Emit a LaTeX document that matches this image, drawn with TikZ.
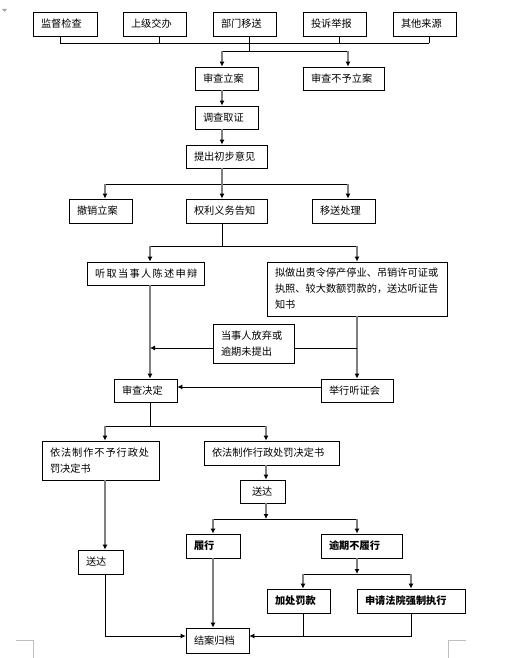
\documentclass[tikz,border=0pt]{standalone}
\usepackage{fontspec}
\newfontfamily\cjk{Noto Sans CJK SC}
\usetikzlibrary{arrows.meta}
\tikzset{
  box/.style={draw=black, line width=0.8pt, inner xsep=8pt, inner ysep=0pt, align=left,
    font=\cjk\fontsize{10.2pt}{16pt}\selectfont},
  ln/.style={draw=black, line width=0.8pt},
  gl/.style={draw=black!50, line width=1.6pt},
  ar/.style={draw=black!50, line width=1.6pt, -{Latex[length=5pt,width=5pt,color=black]}},
  lnar/.style={draw=black, line width=0.8pt, -{Latex[length=5pt,width=5pt,color=black]}},
  pagemark/.style={draw=black!25, line width=0.8pt}
}
% name, cx, cy, w, h, text
\newcommand{\bx}[6]{\node[box, minimum width=#4pt, minimum height=#5pt, text width=#4pt-16pt] (#1) at (#2,#3) {#6};}
\begin{document}
\begin{tikzpicture}[x=1pt, y=-1pt]
\useasboundingbox (0,0) rectangle (523,658);
% page marks
\fill[black!35] (2,9) -- (7,9) -- (4.5,12) -- cycle;
\draw[pagemark] (16,640) -- (33,640) -- (33,658);
\draw[pagemark] (466,640) -- (448,640) -- (448,658);
% boxes
\bx{s1}{65}{24}{64}{24}{监督检查}
\bx{s2}{154.5}{24}{63}{24}{上级交办}
\bx{s3}{244.5}{24}{63}{24}{部门移送}
\bx{s4}{334.5}{24}{63}{24}{投诉举报}
\bx{s5}{424.5}{24}{63}{24}{其他来源}
\bx{la}{226.5}{78.5}{63}{23}{审查立案}
\bx{nl}{343.5}{78.5}{81}{23}{审查不予立案}
\bx{dc}{226.5}{117.5}{63}{23}{调查取证}
\bx{tc}{226.5}{156.5}{81}{23}{提出初步意见}
\bx{cx}{100.5}{211}{63}{24}{撤销立案}
\bx{ql}{226.5}{211}{81}{24}{权利义务告知}
\bx{ys}{343.5}{211}{63}{24}{移送处理}
\bx{tq}{145.5}{273.5}{117}{23}{\addfontfeature{LetterSpace=13}听取当事人陈述申辩}
\bx{nz}{357}{289}{180}{54}{拟做出责令停产停业、吊销许可证或\\执照、较大数额罚款的，送达听证告\\知书}
\bx{fq}{253.5}{343.5}{81}{39}{当事人放弃或\\逾期未提出}
\bx{jd}{145.5}{390.5}{63}{23}{审查决定}
\bx{tz}{357}{390.5}{72}{23}{举行听证会}
\bx{by}{100.5}{460.5}{117}{39}{{\addfontfeature{LetterSpace=9}依法制作不予行政处}\\罚决定书}
\bx{cf}{271.5}{453}{135}{24}{依法制作行政处罚决定书}
\bx{sd}{262.5}{491.5}{45}{23}{\hspace{4pt}送达}
\bx{sl}{100.5}{562}{45}{24}{送达}
\bx{lx}{213}{546}{54}{24}{\bfseries 履行}
\bx{yq}{361.5}{546}{81}{24}{\bfseries 逾期不履行}
\bx{jc}{298.5}{601}{63}{24}{\bfseries 加处罚款}
\bx{sq}{411}{601}{108}{24}{\bfseries 申请法院强制执行}
\bx{ja}{217.5}{640.5}{63}{25}{结案归档}
% junction coordinates
\coordinate (b1) at (60,43);
\coordinate (b2) at (159,43);
\coordinate (b3) at (249,43);
\coordinate (b4) at (339,43);
\coordinate (b5) at (429,43);
\coordinate (b3d) at (249,51);
\coordinate (c1) at (222,51);
\coordinate (c2) at (348,51);
\coordinate (d1) at (105,184);
\coordinate (d2) at (222,184);
\coordinate (d3) at (348,184);
\coordinate (e0) at (222,246);
\coordinate (e1) at (150,246);
\coordinate (e2) at (357,246);
\coordinate (f1) at (150,348);
\coordinate (f2) at (357,348);
\coordinate (g1) at (250,387);
\coordinate (h0) at (150,426);
\coordinate (h1) at (105,426);
\coordinate (h2) at (266,426);
\coordinate (i0) at (266,519);
\coordinate (i1) at (213,519);
\coordinate (i2) at (357,519);
\coordinate (j0) at (357,574);
\coordinate (j1) at (303,574);
\coordinate (j2) at (411,574);
\coordinate (k1) at (105,636);
\coordinate (k2) at (303,636);
\coordinate (k3) at (411,636);
% connectors
\draw[ln] (s1.south -| b1) -- (b1);
\draw[ln] (s2.south -| b2) -- (b2);
\draw[ln] (s3.south -| b3) -- (b3);
\draw[ln] (s4.south -| b4) -- (b4);
\draw[ln] (s5.south -| b5) -- (b5);
\draw[ln] (b1) -- (b5);
\draw[ln] (b3) -- (b3d);
\draw[ln] (c1) -- (c2);
\draw[ar] (c1) -- (c1 |- la.north);
\draw[ar] (c2) -- (c2 |- nl.north);
\draw[ar] (la.south -| c1) -- (dc.north -| c1);
\draw[ar] (dc.south -| c1) -- (tc.north -| c1);
\draw[ln] (d1) -- (d3);
\draw[gl] (tc.south -| d2) -- (d2);
\draw[ar] (d1) -- (d1 |- cx.north);
\draw[ar] (d2) -- (d2 |- ql.north);
\draw[ar] (d3) -- (d3 |- ys.north);
\draw[ln] (ql.south -| e0) -- (e0);
\draw[ln] (e1) -- (e2);
\draw[ar] (e1) -- (e1 |- tq.north);
\draw[ar] (e2) -- (e2 |- nz.north);
\draw[ar] (tq.south -| e1) -- (jd.north -| e1);
\draw[ar] (nz.south -| e2) -- (tz.north -| e2);
\draw[ln] (f2) -- (fq.east |- f2);
\draw[lnar] (fq.west |- f1) -- (f1);
\draw[lnar] (tz.west |- g1) -- (jd.east |- g1);
\draw[ln] (jd.south -| h0) -- (h0);
\draw[ln] (h1) -- (h2);
\draw[ar] (h1) -- (h1 |- by.north);
\draw[ar] (h2) -- (h2 |- cf.north);
\draw[ar] (cf.south -| h2) -- (sd.north -| h2);
\draw[ar] (by.south -| h1) -- (sl.north -| h1);
\draw[ln] (i1) -- (i2);
\draw[ar] (sd.south -| i0) -- (i0);
\draw[ar] (i1) -- (i1 |- lx.north);
\draw[ar] (i2) -- (i2 |- yq.north);
\draw[ar] (lx.south -| i1) -- (ja.north -| i1);
\draw[ln] (j1) -- (j2);
\draw[ar] (yq.south -| j0) -- (j0);
\draw[ar] (j1) -- (j1 |- jc.north);
\draw[ar] (j2) -- (j2 |- sq.north);
\draw[lnar] (sl.south -| k1) |- (ja.west |- k1);
\draw[ln] (jc.south -| k2) -- (k2);
\draw[lnar] (sq.south -| k3) |- (ja.east |- k3);
\end{tikzpicture}
\end{document}
